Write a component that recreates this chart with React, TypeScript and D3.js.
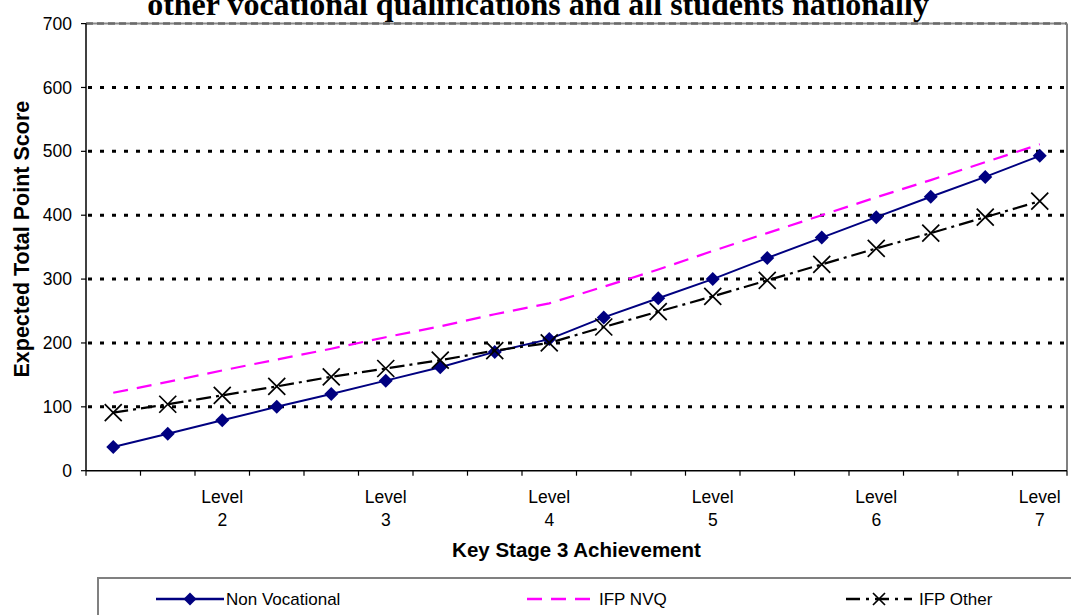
import React from "react";
import * as d3 from "d3";

const categories = ["", "", "Level 2", "", "", "Level 3", "", "", "Level 4", "", "", "Level 5", "", "", "Level 6", "", "", "Level 7"];
const nonVocational = [37, 58, 79, 100, 120, 141, 162, 186, 206, 240, 270, 300, 333, 365, 397, 429, 460, 493];
const ifpNvq = [122, 139, 157, 174, 191, 209, 226, 245, 262, 288, 315, 344, 372, 400, 428, 455, 483, 511];
const ifpOther = [91, 104, 118, 132, 147, 160, 173, 188, 200, 225, 249, 273, 298, 323, 348, 372, 397, 422];
const yTicks = [0, 100, 200, 300, 400, 500, 600, 700];
const titleText = "other vocational qualifications and all students nationally";
const xTitle = "Key Stage 3 Achievement";
const yTitle = "Expected Total Point Score";
const seriesNames = ["Non Vocational", "IFP NVQ", "IFP Other"];

const W = 1071;
const H = 615;
const L = 86;
const R = 1067;
const T = 23.6;
const B = 470.7;

const SANS = "'Liberation Sans', Arial, sans-serif";
const SERIF = "'Liberation Serif', 'Times New Roman', serif";

export default function App() {
  const idx = categories.map((_, i) => String(i));
  const x = d3.scaleBand<string>().domain(idx).range([L, R]).padding(0);
  const y = d3.scaleLinear().domain([0, 700]).range([B, T]);
  const cx = (i: number) => (x(String(i)) as number) + x.bandwidth() / 2;
  const line = d3
    .line<number>()
    .x((_, i) => cx(i))
    .y((d) => y(d));

  const diamond = (px: number, py: number, s: number) =>
    `M${px},${py - s}L${px + s},${py}L${px},${py + s}L${px - s},${py}Z`;
  const cross = (px: number, py: number, s: number) =>
    `M${px - s},${py - s}L${px + s},${py + s}M${px - s},${py + s}L${px + s},${py - s}`;

  const boundaries = d3.range(categories.length + 1).map((i) => L + i * x.bandwidth());

  const legY = 599;

  return (
    <svg
      width={W}
      height={H}
      style={{ position: "absolute", left: 0, top: 0, background: "#fff" }}
    >
      <rect x={0} y={0} width={W} height={H} fill="#fff" />
      {/* title */}
      <text
        x={538}
        y={15}
        textAnchor="middle"
        fontFamily={SERIF}
        fontWeight="bold"
        fontSize={32}
        fill="#000"
      >
        {titleText}
      </text>

      {/* gridlines */}
      {yTicks
        .filter((t) => t > 0 && t < 700)
        .map((t) => (
          <line
            key={"g" + t}
            x1={L + 2}
            x2={R - 2}
            y1={y(t)}
            y2={y(t)}
            stroke="#000"
            strokeWidth={3}
            strokeDasharray="4,8"
          />
        ))}

      {/* plot border top/right */}
      <line x1={L} x2={R} y1={T} y2={T} stroke="#8a8a8a" strokeWidth={2} />
      <line x1={L} x2={R} y1={T} y2={T} stroke="#6a6a6a" strokeWidth={2.5} strokeDasharray="7,4" />
      <line x1={R} x2={R} y1={T} y2={B} stroke="#808080" strokeWidth={2} />

      {/* axes */}
      <line x1={L} x2={L} y1={T} y2={B} stroke="#000" strokeWidth={1.5} />
      <line x1={L} x2={R} y1={B} y2={B} stroke="#000" strokeWidth={1.5} />
      {yTicks.map((t) => (
        <g key={"yt" + t}>
          <line x1={L - 5} x2={L} y1={y(t)} y2={y(t)} stroke="#000" strokeWidth={1.2} />
          <text
            x={72}
            y={y(t)}
            dy="0.35em"
            textAnchor="end"
            fontFamily={SANS}
            fontSize={17.5}
            fill="#000"
          >
            {t}
          </text>
        </g>
      ))}
      {boundaries.map((bx, i) => (
        <line key={"xt" + i} x1={bx} x2={bx} y1={B} y2={B + 5} stroke="#000" strokeWidth={1.2} />
      ))}
      {categories.map((c, i) =>
        c ? (
          <text
            key={"xl" + i}
            x={cx(i)}
            y={503}
            textAnchor="middle"
            fontFamily={SANS}
            fontSize={17.5}
            fill="#000"
          >
            <tspan x={cx(i)} y={503}>
              {c.split(" ")[0]}
            </tspan>
            <tspan x={cx(i)} y={526}>
              {c.split(" ")[1]}
            </tspan>
          </text>
        ) : null
      )}

      {/* axis titles */}
      <text
        x={(L + R) / 2}
        y={557}
        textAnchor="middle"
        fontFamily={SANS}
        fontWeight="bold"
        fontSize={20.5}
        fill="#000"
      >
        {xTitle}
      </text>
      <text
        transform={`translate(29,${(T + B) / 2 - 8}) rotate(-90)`}
        textAnchor="middle"
        fontFamily={SANS}
        fontWeight="bold"
        fontSize={21.5}
        fill="#000"
      >
        {yTitle}
      </text>

      {/* series */}
      <path d={line(ifpNvq) || ""} fill="none" stroke="#FF00FF" strokeWidth={2.2} strokeDasharray="15,9" />
      <path d={line(nonVocational) || ""} fill="none" stroke="#000080" strokeWidth={2} />
      {nonVocational.map((v, i) => (
        <path key={"d" + i} d={diamond(cx(i), y(v), 7)} fill="#000080" />
      ))}
      <path d={line(ifpOther) || ""} fill="none" stroke="#000" strokeWidth={2.2} strokeDasharray="15,5,3,5" />
      {ifpOther.map((v, i) => (
        <path key={"x" + i} d={cross(cx(i), y(v), 8.5)} fill="none" stroke="#000" strokeWidth={1.7} />
      ))}

      {/* legend */}
      <rect x={98} y={578} width={1000} height={80} fill="#fff" stroke="#808080" strokeWidth={2} />
      <line x1={156} x2={224} y1={legY} y2={legY} stroke="#000080" strokeWidth={2.5} />
      <path d={diamond(190, legY, 6.5)} fill="#000080" />
      <text x={226} y={legY + 6} fontFamily={SANS} fontSize={17} fill="#000">
        {seriesNames[0]}
      </text>
      <line x1={527} x2={590} y1={legY} y2={legY} stroke="#FF00FF" strokeWidth={2.5} strokeDasharray="15,9" />
      <text x={599} y={legY + 6} fontFamily={SANS} fontSize={17} fill="#000">
        {seriesNames[1]}
      </text>
      <line x1={846} x2={912} y1={legY} y2={legY} stroke="#000" strokeWidth={2.5} strokeDasharray="14,6,3,6" />
      <path d={cross(879, legY, 6)} fill="none" stroke="#000" strokeWidth={1.7} />
      <text x={919} y={legY + 6} fontFamily={SANS} fontSize={17} fill="#000">
        {seriesNames[2]}
      </text>
    </svg>
  );
}
